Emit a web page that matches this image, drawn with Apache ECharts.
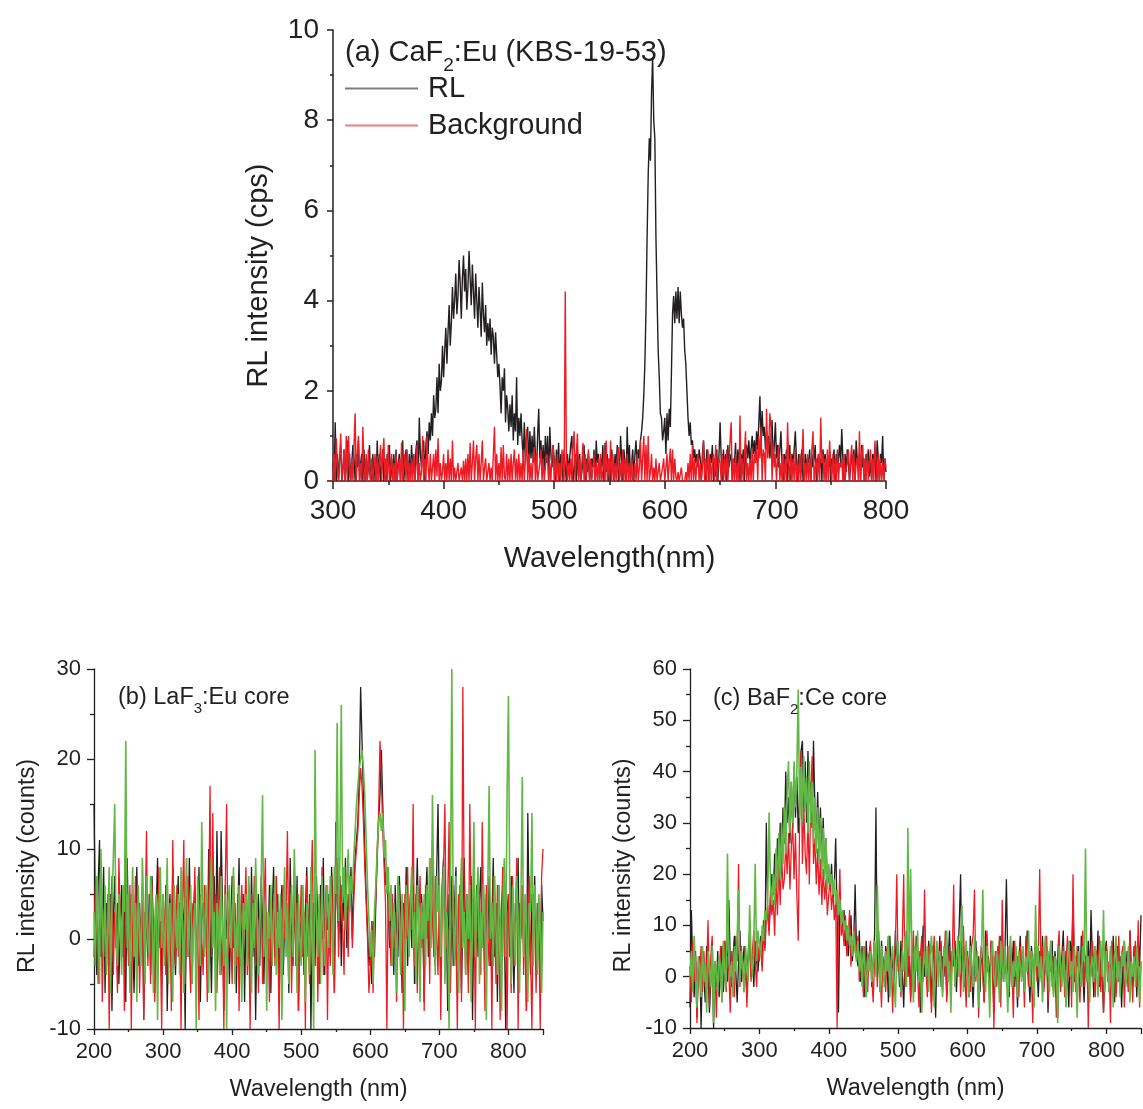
<!DOCTYPE html>
<html>
<head>
<meta charset="utf-8">
<script src="https://cdn.jsdelivr.net/npm/echarts@6/dist/echarts.min.js"></script>
<style>
html,body{margin:0;padding:0;background:#fff;}
#chart{width:1143px;height:1109px;}
</style>
</head>
<body>
<div id="chart"></div>
<script>
// ---------- Panel (a): CaF2:Eu, wavelength 300..800 nm, 1 nm steps ----------
const A_START = 300, A_STEP = 1;
const rlA = [
0.4,0,1.3,0,0.6,0,0.5,0.8,0,0.3,
0.7,0,0.4,0.9,0,0.6,0,0,0.8,0.5,
0,0.6,0.3,0.9,0,0.4,0.6,0,0.7,0,
0.5,0,0.3,0.8,0,0.1,0.6,0,0.5,0,
0.9,0,0.6,0,0.4,0.7,0,0.5,0,0.6,
0.3,0.8,0,0.5,0,0.6,0,0.7,0,0.4,
0.6,0,0.5,0.9,0,0,0.7,0.4,0,0.6,
0,0.8,0.3,0.6,0,0.7,0.9,0,1.4,0.6,
0.3,0.7,0.9,0,0.8,1.1,0.6,1.3,0.9,1.5,
1.0,1.9,1.4,1.6,2.3,1.5,2.6,2.0,2.2,3.0,
2.3,2.9,3.4,2.6,3.3,3.9,3.0,3.5,4.3,3.6,
4.0,4.6,3.7,4.1,4.9,4.4,3.6,4.5,5.0,4.2,
4.7,3.8,4.3,5.1,4.5,3.9,4.8,4.2,3.6,4.6,
4.0,3.4,4.3,3.8,3.2,4.4,3.7,3.3,3.9,3.0,
3.5,3.1,3.6,2.8,3.4,3.2,2.6,3.3,2.8,2.3,
2.6,2.1,1.5,2.3,2.0,2.5,1.3,1.9,1.6,1.1,
1.7,1.2,1.9,0.9,1.5,1.1,2.3,0.8,1.4,1.0,
1.5,0.9,0.5,1.3,0.4,1.0,1.2,0.3,1.1,0.5,
1.0,0.4,1.2,0.6,0.2,1.0,1.6,0.5,0.9,0.3,
0.8,0.2,1.0,0.4,1.0,0,1.2,0.6,0.3,0.8,
0.5,0,0.7,0.3,0.85,0,0.6,0.4,0,0.7,
0.3,0,0.6,0.2,0.5,0.8,1.0,0,0.2,0.6,
0,0.7,0.1,0.6,0,0.2,0.5,0.8,0,0.5,
0.2,0.6,0,0,0.5,0.3,0.7,0,0.9,0.4,
0.6,0,0.5,0.3,0.8,0,0.85,0.2,0.6,0,
0.5,0,0.7,0.4,0,0.6,0.3,0.8,0,0.2,
1.0,0.5,0,0.7,0.4,0,1.2,0.3,0.8,0,
0.4,0.7,0,0.6,0.9,0.3,0.7,0.5,0.9,1.1,
1.4,1.9,2.6,3.8,5.4,6.8,7.6,7.1,8.6,9.4,
8.0,7.6,5.4,4.1,2.9,2.3,1.5,1.4,0.9,1.1,
1.4,0.6,1.5,0.9,1.6,1.2,2.4,3.7,4.1,3.5,
4.2,3.6,4.3,3.5,4.2,3.7,3.4,3.6,2.9,2.6,
2.0,1.4,1.0,1.3,0.8,0.9,0.5,0.7,0.4,0.6,
0.3,0.7,0.5,0,0.6,0.9,0.4,0,0.7,0.5,
0,0.6,0.4,0.8,0,0.5,0.1,0.7,0,0.6,
1.3,0.5,0,0.7,0.2,0.6,0,0.8,0.3,0.5,
0.6,0,0.5,0.4,0.85,0,0.7,0.5,0,0.6,
0.4,0.7,0,0.6,0.8,0.5,0.9,0.4,0.7,1.0,
0.6,0.9,0.5,1.1,0.7,1.3,1.88,0.8,1.55,1.0,
1.2,0.7,1.1,0.6,1.0,0.5,0.9,1.35,0.4,0.8,
1.3,0.5,0.8,0.3,0.7,1.1,0.4,0,0.6,0.3,
0.7,0,0.5,0.8,0,0.6,0.4,0.7,1.1,0.5,
0,0.6,0.2,0.5,0.7,0,0.1,0.6,0.3,0.5,
0.4,0.7,0,0.6,0.3,0.5,0.8,0,0.4,0.6,
0.3,0.5,0,0.7,0.4,0.6,0,0.5,0.3,0.6,
0,0.5,0.4,0.7,0,0.6,0.2,0.5,0.8,0.4,
1.15,0.5,0,0.6,0.2,0.7,0.4,0,0.3,0.6,
0.4,0.7,0,0.9,0.5,0.3,0.6,0,0.8,0.3,
0.5,0,0.6,0.4,0.7,0.1,0.5,0,0.6,0.4,
0.7,0,0.9,0.5,0,0.6,0.4,1.0,0,0.5,
0.2
];
const bgA = [
0,0.6,0,0.95,0.3,0,0.5,1.05,0,0.2,
0.7,0,1.0,0,1.0,0.3,0,0.5,0,0.8,
1.5,0,0.6,1.0,0,0.4,0,1.2,0.3,0,
0.6,0,0.7,0.2,0,0.5,0,0.3,0.6,0,
0.55,0,0.4,0.8,0,0.6,0.95,0,0.5,0,
0.8,0,0.2,0.6,0,0.4,0,0.6,0,0.3,
0.5,0,0.85,0,0.3,0.6,0,0.7,0,0.4,
0,0.5,0,0.6,0,0.3,0.8,0,0.4,0,
0.2,1.0,0,0.5,0,1.0,0.3,0,0.6,0,
0,0.6,0,0.7,0.1,0.95,0,0.4,0,0.2,
0.6,0,0.4,0,0.7,0,0.5,0,0.9,0,
0.3,0,0,0.4,0,0,0.3,0,0.45,0,
0.5,0,0.6,0,0.85,0,0.4,0.9,0,0.5,
0.8,0,0.6,0,0.4,0.9,0,0.3,0.5,0,
0,0.4,0,0.3,0,0,1.2,0,0.6,0,
0.4,0,0.75,0,0.8,0.1,0,0.6,0,0.5,
0,0.6,0,0.4,0.7,0,0.5,0,0.6,0,
0.4,0,0.7,0,0.5,1.15,0,0.6,0,0.4,
0,0.5,0.75,0,0.6,0,0,0.4,0.7,0,
0.5,0,0.3,0.6,0.55,0,0.4,0,0.6,0.8,
0,0.5,0,0.6,0,0.4,0,0.7,0.3,0,
4.2,0.6,0,0.4,0,0.5,0,0.8,1.1,0,
0.6,1.05,0,0.5,0,0.4,0.85,0,0.6,0,
0.4,0.7,0,0.5,0,0.3,0.6,0,0.4,0,
0.5,0,0.6,0,0.2,0.7,0,0.9,0,0.5,
0,0.9,0,0.6,0,0.4,0,0.5,0.75,0,
0.4,0,0.7,0,0.5,0,0.6,0,0.4,0,
0.5,0,0,0.4,0,0.6,0,0.3,0.9,0,
0.5,1.0,0,0.8,0,1.0,0,0.2,0.6,0,
0.3,0,0.5,0,0,0.4,0,0,0.3,0.5,
0,0,0.6,0,0.4,0.72,0,0.7,0,0.5,
0.1,0,0.2,0,0,0.3,0,0,0,0.2,
0,0.4,0,0.6,0,0.8,0,0.5,0,0.4,
0.6,0,0.4,0,0.3,0.9,0,0.5,0,0.7,
0,0.5,0,0.4,0.6,0,0.8,0,0.3,0.5,
0.4,0,0.6,0,0.5,0,0.7,0,0.4,0.9,
1.3,0,0.5,0,0.6,0,0.4,0,1.45,0,
0.5,0,0.6,1.1,0,0.4,0,0.5,0,0.7,
0,0.6,0.4,0.8,0,1.0,0.5,1.2,0,0.7,
0.6,0,1.6,0.5,0.8,1.5,1.2,0,0.9,0.3,
0.6,0,0.5,0.8,0,0.4,0,0.6,0,0.5,
0,1.3,0.4,0,0.6,0,0.5,0,0.7,0,
0.4,0,0.6,0,0.5,1.15,0,0.4,0,0.6,
0,0.5,0,0.7,1.1,0,0.3,0.5,0,0.6,
0,1.4,0.4,0.6,0,0.5,0,0.7,0,0.9,
0.4,0,0.6,0,0.5,0,0.7,0,0.4,0.3,
0.5,0,0.6,0,0.3,0.4,0.7,0,0.5,0.8,
0,0.6,0,0.4,0.5,0,1.1,0,0.6,0.8,
0,0.5,0,0.6,0,0.4,0.7,0,0.5,0,
0.9,0.4,0,0.6,0,0.5,0,0.4,0,0.5,
0.3
];

// ---------- Panel (b): LaF3:Eu core, 200..850 nm, 2 nm steps ----------
const B_START = 200, B_STEP = 2;
const blackB = [
15,3,-4,6,11,-2,1,8,-6,4,
0,-3,5,-8,2,7,-1,4,-5,1,
6,-2,3,-7,9,1,-4,5,0,-6,
2,8,-3,4,-1,6,-9,3,1,-2,
5,-4,7,0,-6,3,9,-1,2,-5,
4,-2,6,-8,1,5,-3,8,0,-4,
3,7,-1,-6,4,2,-10,6,-2,9,
1,-5,3,6,-3,0,8,-7,2,4,
-1,5,-4,10,2,-6,3,7,-2,12,
1,-3,12,4,-8,6,0,3,-5,2,
7,-1,4,-6,2,9,-3,1,5,-7,
3,0,6,-4,8,-2,4,-9,1,5,
-3,7,2,-5,4,0,-1,6,-6,3,
8,-2,1,5,-7,3,6,-4,2,0,
4,-6,9,1,-3,5,-1,7,-8,2,
0,6,-4,3,8,-2,5,-10,1,4,
-3,7,2,-5,6,0,9,-4,3,1,
5,-2,8,3,-6,13,4,1,7,-3,
6,2,9,-1,5,3,8,0,6,9,
9,13,18,28,22,16,10,5,1,-3,
0,-5,2,-2,4,9,13,16,21,15,
10,6,8,3,-1,5,2,-4,6,1,
-2,7,3,-6,4,0,8,-3,2,5,
-1,6,-5,3,9,1,-4,5,2,-7,
4,8,-2,6,1,11,3,-3,7,15,
2,-4,6,9,-1,3,-8,5,1,7,
-3,4,8,-2,0,6,-6,3,9,-1,
5,-4,2,7,-9,3,1,6,-2,4,
8,-1,3,-6,5,0,7,-3,2,9,
-2,4,-7,6,1,-4,8,2,-10,3,
5,-2,7,0,-6,4,2,9,-3,1,
6,-1,3,-8,14,2,-4,5,0,7,
-3,4,1,-5,6,2
];
const redB = [
-2,6,3,-5,1,8,-7,2,4,-3,
5,-10,1,7,-4,3,0,-6,9,2,
-1,4,-8,10,2,-3,6,-10,3,-1,
7,-2,4,-6,1,5,-9,2,12,-3,
3,-5,6,1,-7,4,-2,8,0,-10,
5,2,-4,7,-1,3,-8,11,1,-3,
6,-2,4,-10,3,11,-5,2,7,-1,
-6,4,1,8,-3,2,-9,5,0,-4,
6,2,-7,3,17,-2,14,0,5,-6,
3,8,-4,1,-10,6,15,-2,4,0,
-5,7,2,-3,5,-8,1,6,-1,3,
8,-4,2,-10,5,0,7,-3,4,-6,
2,6,-5,3,9,-2,1,-7,4,0,
5,-3,7,1,-10,4,-2,6,0,3,
12,-1,5,-6,2,8,-3,4,-8,1,
6,-2,3,-10,7,1,-5,4,11,-3,
2,5,-7,3,-1,8,-4,0,6,-9,
4,-3,7,1,-6,5,9,-2,3,6,
1,-4,8,3,-2,7,5,-1,4,8,
10,12,16,19,17,13,8,4,0,-6,
-3,2,-6,1,5,10,14,22,18,12,
8,4,-10,6,1,-3,5,-1,3,-7,
2,6,-4,3,-10,5,0,8,-2,4,
1,15,-3,5,-6,2,7,-1,3,-8,
6,0,4,-5,9,2,-2,7,1,-4,
5,-9,3,8,15,-1,4,13,-6,2,
6,-3,1,-10,5,2,-7,28,3,-4,
1,-6,15,3,-2,7,-10,4,0,5,
-4,13,2,-8,6,1,-3,4,-10,7,
2,-5,6,0,-9,4,8,-2,3,-10,
5,1,-6,7,-3,2,9,-10,4,0,
6,-4,3,-8,1,7,-2,-10,5,3,
-6,4,1,-10,7,10
];
const greenB = [
3,-3,7,1,-5,10,2,-2,6,-4,
1,8,-6,4,9,15,0,-3,5,2,
-4,6,3,22,-1,5,-6,2,8,-2,
4,-7,6,1,-3,9,3,-5,7,0,
-2,7,4,-6,2,5,-9,3,8,-1,
5,-3,2,9,-5,4,1,-7,6,3,
-1,5,-4,8,2,-6,4,9,-2,3,
6,-5,1,4,-10,7,3,-3,13,2,
-2,6,1,-6,5,9,-1,3,-8,4,
2,-4,7,1,-3,5,-10,4,6,-1,
3,8,-5,2,-2,6,0,-7,4,1,
5,-3,7,2,-6,4,-1,9,3,-4,
1,6,16,-2,4,-8,3,0,6,-3,
2,7,-4,3,-1,5,-9,2,8,-2,
4,-5,1,6,-2,10,3,-6,5,0,
-3,6,2,-7,4,1,-4,8,0,-10,
21,3,-2,5,-5,7,1,-3,4,6,
-1,7,3,-4,8,5,24,2,9,26,
4,8,1,6,10,3,7,5,9,12,
15,17,19,20,21,19,16,11,6,2,
-2,1,-5,3,6,10,13,14,12,14,
9,11,5,8,2,6,-3,4,1,-6,
7,3,-4,5,1,-8,6,2,-2,4,
8,-1,3,-5,6,2,-7,4,0,5,
-3,6,2,9,-1,16,4,-4,7,3,
6,-2,4,8,-5,3,1,-10,5,30,
2,-3,7,1,-6,4,9,-1,3,-4,
5,0,6,-7,2,13,-2,4,8,-5,
3,-1,6,2,-9,5,17,0,4,-3,
7,1,-4,6,2,-8,4,9,-2,16,
27,3,-5,6,1,-3,7,2,-6,4,
18,-2,5,1,-7,4,3,14,-3,6,
2,-4,5,1,-6,3
];

// ---------- Panel (c): BaF2:Ce core, 200..850 nm, 2 nm steps ----------
const C_START = 200, C_STEP = 2;
const blackC = [
-6,13,2,-4,5,-8,1,4,-10,3,
0,-5,6,2,-7,-1,4,-10,3,-2,
5,-4,1,6,-3,2,7,-1,15,3,
-2,4,8,1,-5,3,9,-1,2,6,
1,-3,5,9,0,4,-2,7,3,1,
5,8,2,11,6,30,12,9,15,20,
16,24,15,27,19,30,22,33,26,40,
30,35,26,38,29,41,31,39,28,36,
44,46,32,42,30,44,34,38,29,46,
33,27,36,25,33,23,31,20,27,18,
20,17,22,15,18,27,12,-7,14,11,
9,13,6,10,4,8,12,3,7,18,
5,2,9,-1,6,3,-4,7,1,4,
6,-2,3,8,33,0,5,-3,7,2,
-1,6,3,-5,8,1,4,-3,9,2,
5,-2,7,1,-6,4,9,0,3,-4,
6,2,-3,8,1,5,-7,3,10,0,
4,-1,7,2,-5,6,3,-8,5,1,
8,-2,4,0,6,-4,3,9,-1,5,
2,7,-3,4,10,20,1,6,-2,3,
5,-4,8,1,-6,3,7,0,4,-3,
6,2,-5,9,1,4,-2,7,3,-7,
4,0,6,-3,8,2,-1,5,19,3,
-4,6,1,7,-2,4,-6,3,8,0,
5,-3,2,9,1,-5,6,3,-1,7,
2,-4,5,0,8,-2,3,6,-7,4,
1,7,-3,5,2,-8,6,0,4,9,
-2,5,1,-6,7,3,15,-1,4,2,
6,-3,8,1,-5,4,2,7,-1,13,
3,-4,6,1,9,-2,5,0,-7,4,
7,2,-3,5,1,8,-5,3,6,-1,
4,-6,2,7,0,5,-3,9,1,-2,
6,3,-4,8,2,12
];
const redC = [
2,-5,7,-1,4,-9,3,0,6,-3,
5,-2,1,11,-6,4,8,-4,2,-8,
3,-1,6,-5,2,7,-3,4,1,-7,
5,0,-4,8,3,22,-2,6,1,-3,
4,-6,2,7,-1,5,9,3,-2,6,
3,7,1,9,5,11,14,8,17,12,
15,8,19,12,22,14,24,17,19,26,
20,28,17,25,30,19,28,16,7,30,
44,22,33,24,20,31,18,35,43,22,
27,18,25,16,23,14,21,15,19,12,
16,19,13,17,11,15,-10,12,21,8,
10,6,12,4,8,13,2,7,5,10,
3,8,-1,5,2,-4,6,1,-3,4,
7,0,-5,3,6,-2,9,1,-6,4,
2,-3,5,8,-1,4,-7,3,6,20,
1,4,-4,7,20,-2,5,0,8,-5,
3,9,-3,6,1,-6,4,8,-1,17,
2,-4,6,1,-7,3,8,-2,5,0,
4,7,-3,2,9,-5,1,6,-1,3,
18,-2,5,0,7,-4,3,10,1,-6,
4,2,-3,6,8,17,-1,5,-8,3,
6,0,-5,4,9,1,-3,7,2,-10,
5,-2,3,8,-6,15,1,4,-1,6,
-3,5,2,-8,7,1,4,-4,6,0,
3,-6,8,2,-2,5,1,-9,4,7,
-1,4,21,0,6,-3,2,8,-5,3,
7,-2,4,1,-8,5,9,-3,2,6,
-4,3,8,0,5,-6,20,2,-3,6,
1,-5,4,9,-2,3,6,-10,5,0,
7,2,-4,5,1,8,-3,4,-7,2,
6,-1,3,-9,7,2,5,-4,1,8,
-2,4,6,-6,3,1,-3,9,2,-5,
4,7,-2,11,-6,3
];
const greenC = [
0,5,-3,8,1,-6,4,2,-4,6,
-1,3,-7,5,2,-2,6,-9,3,1,
-3,4,2,-5,7,1,-2,24,4,0,
3,-4,6,1,8,17,-1,5,2,-3,
6,2,-1,14,4,0,7,22,3,9,
6,4,10,7,13,11,15,32,18,14,
20,14,25,17,28,19,30,22,33,24,
36,42,28,38,30,42,33,40,56,31,
41,30,43,33,39,28,42,30,38,26,
35,24,33,22,31,20,29,19,27,17,
22,18,20,16,19,14,17,12,15,10,
13,9,11,7,10,6,8,4,9,5,
3,7,1,5,-2,6,2,-4,4,1,
5,-1,3,7,0,18,4,-3,6,2,
-2,5,1,8,-4,3,6,0,-6,4,
7,2,-3,5,1,8,-2,29,4,21,
3,-5,6,1,9,-1,4,-7,2,5,
0,6,-3,4,8,1,-6,3,7,-2,
5,1,-4,6,2,9,-1,3,-7,4,
6,-2,3,8,0,5,14,-3,2,7,
1,-4,6,3,-2,8,0,5,-6,3,
4,17,2,-3,6,1,-8,4,7,0,
-2,5,3,-5,7,2,-1,6,1,-7,
4,8,-2,3,0,6,-4,5,2,-1,
6,-3,4,1,9,-2,5,3,-6,14,
2,6,-1,4,-5,3,8,0,5,-3,
7,1,-4,4,2,-9,6,3,-2,5,
1,-6,4,7,0,3,-3,6,2,-8,
5,1,-2,6,3,25,-1,4,-5,2,
4,-1,6,2,-4,3,7,0,13,-3,
5,1,-3,6,2,-6,4,8,-1,3,
-4,5,2,7,-2,1,6,-5,3,0,
4,-2,6,1,-5,3
];

// ---------- styling ----------
const FONT = '"Liberation Sans", Arial, Helvetica, sans-serif';
const INK = '#231f20';
const C_BLACK = '#231f20', C_RED = '#ed1c24', C_GREEN = '#62b845';

function pairs(start, step, vals) {
  return vals.map(function (v, i) { return [start + i * step, v]; });
}

function axis(o) {
  return Object.assign({
    type: 'value',
    axisLine: { show: true, onZero: false, lineStyle: { color: INK, width: o.lw } },
    axisTick: { show: true, inside: false, length: o.tick, lineStyle: { color: INK, width: o.lw } },
    minorTick: { show: true, splitNumber: 2, length: o.minor, lineStyle: { color: INK, width: o.lw } },
    splitLine: { show: false },
    minorSplitLine: { show: false },
    axisLabel: { fontSize: o.fs, margin: o.margin, color: INK, fontFamily: FONT },
    nameLocation: 'middle',
    nameTextStyle: Object.assign({ fontSize: o.nfs, color: INK, fontFamily: FONT }, o.nts || {})
  }, o.extra);
}

function line(name, data, color, xi, width) {
  return {
    type: 'line', name: name, data: data, xAxisIndex: xi, yAxisIndex: xi,
    symbol: 'none', showSymbol: false, clip: true,
    lineStyle: { color: color, width: width }, itemStyle: { color: color },
    emphasis: { disabled: true }, silent: true
  };
}

const option = {
  animation: false,
  backgroundColor: '#ffffff',
  textStyle: { fontFamily: FONT, color: INK },
  title: [
    { text: '(a) CaF{sub|2}:Eu (KBS-19-53)', left: 345, top: 30, padding: 0,
      textStyle: { fontSize: 29, fontWeight: 'normal', color: INK, fontFamily: FONT,
        rich: { sub: { fontSize: 19, color: INK, fontFamily: FONT, padding: [26, 0, 0, 0] } } } },
    { text: '(b) LaF{sub|3}:Eu core', left: 118, top: 679, padding: 0,
      textStyle: { fontSize: 23.5, fontWeight: 'normal', color: INK, fontFamily: FONT,
        rich: { sub: { fontSize: 15, color: INK, fontFamily: FONT, padding: [22, 0, 0, 0] } } } },
    { text: '(c) BaF{sub|2}:Ce core', left: 713, top: 680, padding: 0,
      textStyle: { fontSize: 23.5, fontWeight: 'normal', color: INK, fontFamily: FONT,
        rich: { sub: { fontSize: 15, color: INK, fontFamily: FONT, padding: [22, 0, 0, 0] } } } }
  ],
  legend: [
    { data: [{ name: 'RL', itemStyle: { color: '#7d7d7d' } }], left: 345, top: 74, padding: 0,
      icon: 'rect', itemWidth: 73, itemHeight: 2, selectedMode: false,
      textStyle: { fontSize: 29, color: INK, fontFamily: FONT, padding: [0, 0, 0, 5] } },
    { data: [{ name: 'Background', itemStyle: { color: '#f07f7f' } }], left: 345, top: 111, padding: 0,
      icon: 'rect', itemWidth: 73, itemHeight: 2, selectedMode: false,
      textStyle: { fontSize: 29, color: INK, fontFamily: FONT, padding: [0, 0, 0, 5] } }
  ],
  grid: [
    { left: 333, top: 30, width: 553, height: 451 },
    { left: 94, top: 669, width: 449, height: 360 },
    { left: 690, top: 669, width: 451, height: 359 }
  ],
  xAxis: [
    axis({ lw: 1.5, tick: 8, minor: 4, fs: 28, margin: 16, nfs: 29,
      extra: { gridIndex: 0, min: 300, max: 800, interval: 100, name: 'Wavelength(nm)', nameGap: 63 } }),
    axis({ lw: 1.3, tick: 6, minor: 3, fs: 22, margin: 12, nfs: 23.5,
      extra: { gridIndex: 1, min: 200, max: 850, interval: 100, name: 'Wavelength (nm)', nameGap: 49 } }),
    axis({ lw: 1.3, tick: 6, minor: 3, fs: 22, margin: 12, nfs: 23.5,
      extra: { gridIndex: 2, min: 200, max: 850, interval: 100, name: 'Wavelength (nm)', nameGap: 49 } })
  ],
  yAxis: [
    axis({ lw: 1.5, tick: 6, minor: 3, fs: 28, margin: 14, nfs: 29, nts: { padding: [0, 40, 0, 0] },
      extra: { gridIndex: 0, min: 0, max: 10, interval: 2, name: 'RL intensity (cps)', nameGap: 60, nameRotate: 90 } }),
    axis({ lw: 1.3, tick: 7, minor: 4, fs: 22, margin: 13, nfs: 23.5, nts: { padding: [0, 34, 0, 0] },
      extra: { gridIndex: 1, min: -10, max: 30, interval: 10, name: 'RL intensity (counts)', nameGap: 54, nameRotate: 90 } }),
    axis({ lw: 1.3, tick: 7, minor: 4, fs: 22, margin: 13, nfs: 23.5, nts: { padding: [0, 34, 0, 0] },
      extra: { gridIndex: 2, min: -10, max: 60, interval: 10, name: 'RL intensity (counts)', nameGap: 54, nameRotate: 90 } })
  ],
  series: [
    line('RL', pairs(A_START, A_STEP, rlA), C_BLACK, 0, 1.4),
    line('Background', pairs(A_START, A_STEP, bgA), C_RED, 0, 1.4),
    line('LaF3 black', pairs(B_START, B_STEP, blackB), C_BLACK, 1, 1.3),
    line('LaF3 red', pairs(B_START, B_STEP, redB), C_RED, 1, 1.3),
    line('LaF3 green', pairs(B_START, B_STEP, greenB), C_GREEN, 1, 1.6),
    line('BaF2 black', pairs(C_START, C_STEP, blackC), C_BLACK, 2, 1.3),
    line('BaF2 red', pairs(C_START, C_STEP, redC), C_RED, 2, 1.3),
    line('BaF2 green', pairs(C_START, C_STEP, greenC), C_GREEN, 2, 1.6)
  ]
};

const chart = echarts.init(document.getElementById('chart'), null, { renderer: 'canvas' });
chart.setOption(option);
</script>
</body>
</html>
